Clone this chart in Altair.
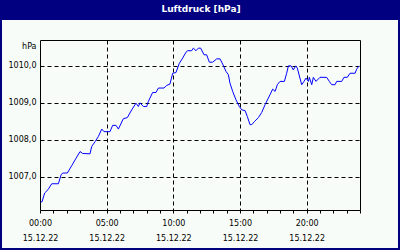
import altair as alt
import pandas as pd

# Time of day in hours (15.12.22) and air pressure in hPa
hours = [0.05, 0.15, 0.35, 0.6, 0.88, 1.38, 1.58, 1.7, 2.05, 2.38, 2.7, 3.0, 3.2, 3.75,
         3.88, 4.13, 4.38, 4.63, 4.8, 5.25, 5.45, 5.7, 5.88, 6.25, 6.55, 6.88, 7.2,
         7.38, 7.5, 7.75, 8.0, 8.13, 8.45, 8.7, 8.88, 9.3, 9.5, 9.75, 9.95, 10.2,
         10.45, 10.7, 10.95, 11.08, 11.38, 11.5, 11.7, 11.88, 12.05, 12.3, 12.5,
         12.7, 12.95, 13.25, 13.5, 13.7, 13.95, 14.13, 14.25, 14.45, 14.7, 14.95,
         15.13, 15.38, 15.55, 15.75, 15.88, 16.1, 16.38, 16.63, 16.88, 17.25, 17.45,
         17.63, 17.8, 18.0, 18.33, 18.5, 18.63, 18.83, 19.0, 19.18, 19.3, 19.45,
         19.63, 19.8, 19.95, 20.13, 20.2, 20.38, 20.5, 20.7, 21.0, 21.5, 21.7,
         21.88, 22.13, 22.25, 22.63, 22.8, 23.05, 23.25, 23.63, 23.75, 23.93]
pressure = [1006.32, 1006.32, 1006.56, 1006.65, 1006.81, 1006.81, 1007.05, 1007.1,
            1007.1, 1007.3, 1007.5, 1007.68, 1007.63, 1007.62, 1007.82, 1007.95,
            1008.09, 1008.29, 1008.22, 1008.22, 1008.39, 1008.39, 1008.29, 1008.57,
            1008.6, 1008.81, 1008.99, 1008.9, 1009.0, 1008.9, 1008.9, 1009.04,
            1009.28, 1009.28, 1009.4, 1009.4, 1009.47, 1009.51, 1009.8, 1009.82,
            1010.07, 1010.21, 1010.37, 1010.41, 1010.41, 1010.48, 1010.41, 1010.48,
            1010.48, 1010.3, 1010.3, 1010.1, 1010.1, 1010.19, 1010.19, 1010.05,
            1009.85, 1009.76, 1009.53, 1009.31, 1009.08, 1008.9, 1008.81, 1008.79,
            1008.63, 1008.41, 1008.41, 1008.5, 1008.6, 1008.74, 1008.95, 1009.22,
            1009.37, 1009.31, 1009.49, 1009.58, 1009.58, 1009.8, 1010.0, 1010.0,
            1009.89, 1010.0, 1009.94, 1009.73, 1009.49, 1009.58, 1009.67, 1009.58,
            1009.69, 1009.49, 1009.69, 1009.58, 1009.69, 1009.69, 1009.58, 1009.49,
            1009.49, 1009.58, 1009.58, 1009.69, 1009.69, 1009.8, 1009.8, 1009.91,
            1010.0]

y_ticks = [1007, 1008, 1009, 1010]
x_ticks = list(range(25))
date_label = "15.12.22"
title_text = "Luftdruck [hPa]"

NAVY = "#000080"
BG = "#F8FCF8"
FONT = "DejaVu Sans"

df = pd.DataFrame({"h": hours, "p": pressure})
dummy = pd.DataFrame({"a": [0]})

line = alt.Chart(df).mark_line(color="#0000FF", strokeWidth=1, clip=True).encode(
    x=alt.X("h:Q", scale=alt.Scale(domain=[0, 24], nice=False, zero=False),
            axis=alt.Axis(
                values=x_ticks, title=None, domain=False,
                tickSize=3, tickColor="black", tickWidth=1,
                labelExpr=("datum.value % 5 == 0 ? [(datum.value < 10 ? '0' : '') + datum.value + ':00', '"
                           + date_label + "'] : ''"),
                labelFont=FONT, labelFontSize=8, labelColor="black",
                labelBaseline="top", labelPadding=6, labelLineHeight=15,
                labelFlush=False, labelOverlap=False,
                grid=True, gridColor="black", gridDash=[4, 3], gridWidth=1,
                gridOpacity={"condition": {"test": "datum.value % 5 == 0 && datum.value > 0", "value": 1}, "value": 0},
            )),
    y=alt.Y("p:Q", scale=alt.Scale(domain=[1006.1, 1010.7], nice=False, zero=False),
            axis=alt.Axis(
                values=y_ticks, title="hPa", titleAngle=0, titleX=-4, titleY=8,
                titleAlign="right", titleBaseline="alphabetic",
                titleFont=FONT, titleFontSize=8, titleFontWeight="normal", titleColor="black",
                domain=False, ticks=False, labelPadding=4,
                labelExpr="replace(format(datum.value, '.1f'), '.', ',')",
                labelFont=FONT, labelFontSize=8, labelColor="black",
                grid=True, gridColor="black", gridDash=[4, 3], gridWidth=1,
            )),
)

bar = alt.Chart(dummy).mark_rect(color=NAVY).encode(
    x=alt.value(-40), x2=alt.value(360), y=alt.value(-40), y2=alt.value(-20))
left = alt.Chart(dummy).mark_rect(color=NAVY).encode(
    x=alt.value(-40), x2=alt.value(-38), y=alt.value(-40), y2=alt.value(210))
right = alt.Chart(dummy).mark_rect(color=NAVY).encode(
    x=alt.value(358), x2=alt.value(360), y=alt.value(-40), y2=alt.value(210))
bottom = alt.Chart(dummy).mark_rect(color=NAVY).encode(
    x=alt.value(-40), x2=alt.value(360), y=alt.value(208), y2=alt.value(210))
title = alt.Chart(dummy).mark_text(
    color="white", font=FONT, fontSize=9, fontWeight="bold",
    align="center", baseline="middle").encode(
    x=alt.value(161), y=alt.value(-31), text=alt.value(title_text))

chart = alt.layer(line, bar, left, right, bottom, title).properties(
    width=320, height=170, padding=0, background=BG
).configure_view(stroke="black", strokeWidth=1, fill=BG)

chart.save("out.html", embed_options={"renderer": "svg", "actions": False})
